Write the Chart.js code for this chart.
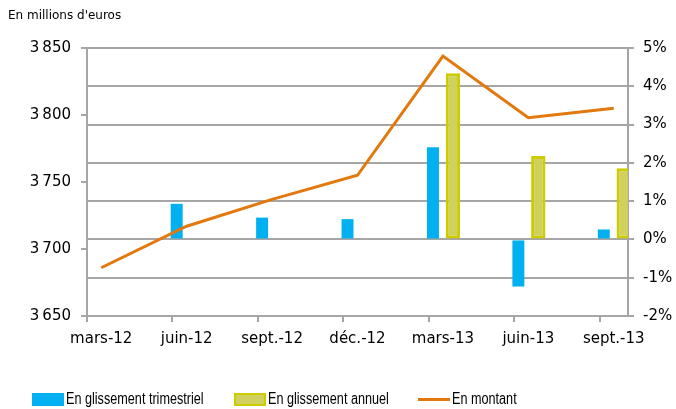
<!DOCTYPE html>
<html lang="fr">
<head>
<meta charset="utf-8">
<script src="https://cdn.jsdelivr.net/npm/chart.js@4.4.1/dist/chart.umd.min.js"></script>
<style>
  html, body { margin: 0; padding: 0; background: #fff; }
  #wrap { position: relative; width: 676px; height: 409px; }
  #unit { position: absolute; left: 8px; top: 8px; font: 12px 'DejaVu Sans', sans-serif; color: #000; }
  #legend { position: absolute; left: 0; top: 391px; width: 676px; height: 16px;
            font: 16px 'Liberation Sans', Arial, sans-serif; color: #000; }
  .lg-box  { position: absolute; top: 2px; width: 32px; height: 13px; box-sizing: border-box; }
  .lg-line { position: absolute; top: 7px; width: 32px; height: 3px; }
  .lg-text { position: absolute; top: -1px; white-space: nowrap; transform: scaleX(0.79); transform-origin: 0 50%; }
</style>
</head>
<body>
<div id="wrap">
  <canvas id="chart" width="676" height="409"></canvas>
  <div id="unit">En millions d'euros</div>
  <div id="legend"></div>
</div>
<script>
// ── Data ────────────────────────────────────────────────────────────────────
const QUARTERS    = ['mars-12', 'juin-12', 'sept.-12', 'déc.-12', 'mars-13', 'juin-13', 'sept.-13'];
const TRIMESTRIEL = [null, 0.93, 0.57, 0.53, 2.41, -1.23, 0.26];   // % (right axis)
const ANNUEL      = [null, null, null, null, 4.34, 2.18, 1.86];     // % (right axis)
const MONTANT     = [3686, 3717, 3737, 3755, 3844, 3798, 3805];     // M€ (left axis)
const LEFT_TICKS  = [3650, 3700, 3750, 3800, 3850];
const RIGHT_TICKS = [-2, -1, 0, 1, 2, 3, 4, 5];

const BLUE = '#00B0F0', OLIVE = '#CCCC00', OLIVE_FILL = '#D0D05C', ORANGE = '#E3780C';
const GRID = '#A6A6A6', TXT = '#000';

// The axis is a monthly date axis: one slot per month, a label every quarter
const STEP   = 3;
const NSLOTS = (QUARTERS.length - 1) * STEP + 1;
const slotLabels = Array.from({ length: NSLOTS }, (_, i) => i % STEP === 0 ? QUARTERS[i / STEP] : '');
const toSlots = arr => { const out = new Array(NSLOTS).fill(null); arr.forEach((v, i) => { out[i * STEP] = v; }); return out; };

const fmtEur = v => String(v).replace(/\B(?=(\d{3})+$)/, '\u202f');
const tickFont = { family: "'DejaVu Sans', sans-serif", size: 15 };

const datasets = [
  { type: 'bar', label: 'En glissement trimestriel', data: toSlots(TRIMESTRIEL), yAxisID: 'yPct',
    backgroundColor: BLUE, borderWidth: 0, barPercentage: 0.6, categoryPercentage: 1.4, order: 2 },
  { type: 'bar', label: 'En glissement annuel', data: toSlots(ANNUEL), yAxisID: 'yPct',
    backgroundColor: OLIVE_FILL, borderColor: OLIVE, borderWidth: 3, borderSkipped: false,
    barPercentage: 0.72, categoryPercentage: 1.4, order: 2 },
  { type: 'line', label: 'En montant', data: toSlots(MONTANT), yAxisID: 'yEur',
    borderColor: ORANGE, backgroundColor: ORANGE, borderWidth: 3, pointRadius: 0,
    tension: 0, spanGaps: true, fill: false, order: 1 },
];

new Chart(document.getElementById('chart'), {
  type: 'bar',
  data: { labels: slotLabels, datasets },
  options: {
    responsive: false, animation: false,
    layout: { padding: { top: 48, bottom: 63, left: 0, right: 0 } },
    plugins: { legend: { display: false }, title: { display: false }, tooltip: { enabled: false } },
    scales: {
      x: {
        offset: true,
        grid: { offset: true, drawOnChartArea: false, tickLength: 6, lineWidth: 2,
                color: c => c.index % STEP === 0 ? GRID : 'rgba(0,0,0,0)' },
        border: { color: GRID, width: 2 },
        ticks: { autoSkip: false, maxRotation: 0, padding: 8, color: TXT, font: tickFont },
        afterFit: s => { s.height = 30; },
      },
      yEur: {
        position: 'left', min: LEFT_TICKS[0], max: LEFT_TICKS[LEFT_TICKS.length - 1],
        grid: { drawOnChartArea: false, tickLength: 6, lineWidth: 2, color: GRID },
        border: { color: GRID, width: 2 },
        afterBuildTicks: s => { s.ticks = LEFT_TICKS.map(v => ({ value: v })); },
        ticks: { padding: 10, color: TXT, font: tickFont, callback: v => fmtEur(v) },
        afterFit: s => { s.width = 87; },
      },
      yPct: {
        position: 'right', min: RIGHT_TICKS[0], max: RIGHT_TICKS[RIGHT_TICKS.length - 1],
        grid: { drawOnChartArea: true, tickLength: 6, lineWidth: 2, color: GRID },
        border: { color: GRID, width: 2 },
        afterBuildTicks: s => { s.ticks = RIGHT_TICKS.map(v => ({ value: v })); },
        ticks: { padding: 9, color: TXT, font: tickFont, callback: v => v + '%' },
        afterFit: s => { s.width = 48; },
      },
    },
  },
});

// Legend row under the chart, built from the datasets (mark left edges)
const LEGEND_X = [32, 234, 418];
document.getElementById('legend').innerHTML = datasets.map((d, i) => {
  const x = LEGEND_X[i];
  const mark = d.type === 'line'
    ? `<span class="lg-line" style="left:${x}px;background:${d.borderColor}"></span>`
    : `<span class="lg-box" style="left:${x}px;background:${d.backgroundColor};border:${d.borderWidth ? '2px solid ' + d.borderColor : 'none'}"></span>`;
  return `${mark}<span class="lg-text" style="left:${x + 34}px">${d.label}</span>`;
}).join('');
</script>
</body>
</html>
